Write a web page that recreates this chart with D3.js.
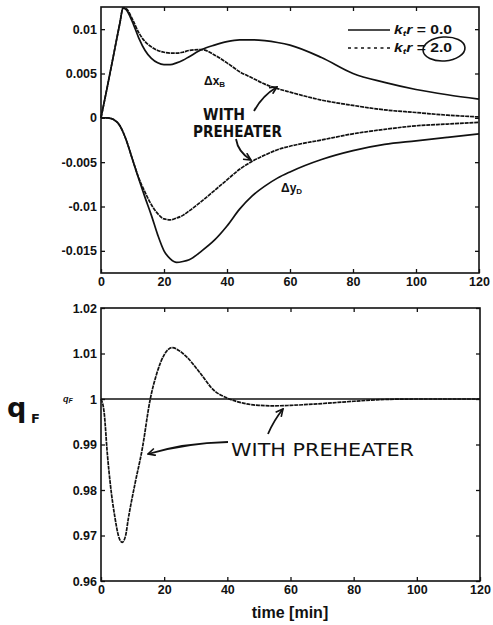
<!DOCTYPE html>
<html>
<head>
<meta charset="utf-8">
<script src="https://cdn.jsdelivr.net/npm/d3@7"></script>
<style>
body { margin: 0; background: #fff; }
</style>
</head>
<body>
<div id="chart"></div>
<script>
// time grid for the upper plot (min)
var tTop = [0, 2, 4, 6, 7, 8, 10, 12, 14, 16, 18, 20, 22, 24, 26, 28, 32, 36, 40, 44, 48, 52, 56, 60, 70, 80, 90, 100, 110, 120];

// delta x_B, k_tr = 0.0 (solid) and 2.0 (with preheater, dashed)
var dxbNoPre = [0, 0.0035, 0.0071, 0.0107, 0.0124, 0.0122, 0.0108, 0.0090, 0.0076, 0.0067, 0.0062, 0.0060, 0.0060, 0.0062, 0.0065, 0.0069, 0.0077, 0.0082, 0.0086, 0.0088, 0.0088, 0.0087, 0.0085, 0.0082, 0.0068, 0.0050, 0.0040, 0.0032, 0.0026, 0.0021];
var dxbPre   = [0, 0.0035, 0.0071, 0.0107, 0.0124, 0.0123, 0.0111, 0.0096, 0.0086, 0.0080, 0.0076, 0.0074, 0.0073, 0.0073, 0.0074, 0.0076, 0.0077, 0.0071, 0.0062, 0.0052, 0.0045, 0.0038, 0.0033, 0.0029, 0.0020, 0.0014, 0.0009, 0.0006, 0.0003, 0.0001];

// delta y_D
var dydNoPre = [0, 0, -0.0002, -0.0009, -0.0016, -0.0025, -0.0047, -0.0069, -0.0090, -0.0110, -0.0132, -0.0150, -0.0159, -0.0163, -0.0162, -0.0160, -0.0150, -0.0138, -0.0122, -0.0103, -0.0088, -0.0077, -0.0068, -0.0061, -0.0047, -0.0037, -0.0030, -0.0026, -0.0022, -0.0018];
var dydPre   = [0, 0, -0.0002, -0.0009, -0.0016, -0.0025, -0.0047, -0.0068, -0.0084, -0.0098, -0.0108, -0.0114, -0.0115, -0.0113, -0.0110, -0.0105, -0.0094, -0.0082, -0.0070, -0.0058, -0.0049, -0.0042, -0.0036, -0.0032, -0.0025, -0.0018, -0.0013, -0.0009, -0.0007, -0.0005];

// feed flow q_F, lower plot
var tBot = [0, 1, 2, 3, 4.4, 5.5, 6.7, 7.8, 8.6, 10.8, 13, 15.6, 17.7, 20, 22.5, 25, 27.2, 31.4, 35.6, 40, 45, 50, 55, 60, 70, 80, 90, 100, 120];
var qfPre = [1.0, 0.997, 0.988, 0.981, 0.974, 0.970, 0.9685, 0.970, 0.9735, 0.9815, 0.9888, 1.0, 1.0057, 1.0097, 1.0113, 1.0105, 1.0092, 1.0057, 1.002, 1.0002, 0.9991, 0.9986, 0.9985, 0.9986, 0.999, 0.9995, 0.9999, 1.0, 1.0];
var tBotFlat = [0, 120];
var qfNoPre = [1, 1];

// ticks
var xTicks = [0, 20, 40, 60, 80, 100, 120];
var yTopTicks = [-0.015, -0.01, -0.005, 0, 0.005, 0.01];
var yBotTicks = [0.96, 0.97, 0.98, 0.99, 1, 1.01, 1.02];

var W = 493, H = 625;
var svg = d3.select('#chart').append('svg')
    .attr('width', W)
    .attr('height', H)
    .style('font-family', '"Liberation Sans", Arial, sans-serif');

svg.append('marker')
    .attr('id', 'head')
    .attr('viewBox', '0 0 10 10')
    .attr('refX', 9)
    .attr('refY', 5)
    .attr('markerWidth', 9)
    .attr('markerHeight', 9)
    .attr('markerUnits', 'userSpaceOnUse')
    .attr('orient', 'auto')
    .append('path')
    .attr('d', 'M 1 1 L 9 5 L 1 9')
    .attr('fill', 'none')
    .attr('stroke', '#111')
    .attr('stroke-width', 1.8);

var x1 = d3.scaleLinear().domain([0, 120]).range([101, 479]);
var y1 = d3.scaleLinear().domain([-0.0175, 0.0125]).range([273, 7]);
var x2 = d3.scaleLinear().domain([0, 120]).range([101, 480]);
var y2 = d3.scaleLinear().domain([0.96, 1.02]).range([581, 308]);

var fmt = function(d){ return String(+d.toFixed(3)); };

function frame(x, y, yTicks) {
    var g = svg.append('g');
    g.append('g')
        .attr('transform', 'translate(0,' + y.range()[0] + ')')
        .call(d3.axisBottom(x).tickValues(xTicks).tickSizeInner(-4).tickSizeOuter(0).tickPadding(4).tickFormat(d3.format('d')));
    g.append('g')
        .attr('transform', 'translate(0,' + y.range()[1] + ')')
        .call(d3.axisTop(x).tickValues(xTicks.slice(1, -1)).tickSizeInner(-4).tickSizeOuter(0).tickFormat(''));
    g.append('g')
        .attr('transform', 'translate(' + x.range()[0] + ',0)')
        .call(d3.axisLeft(y).tickValues(yTicks).tickSizeInner(-4).tickSizeOuter(0).tickPadding(4).tickFormat(fmt));
    g.append('g')
        .attr('transform', 'translate(' + x.range()[1] + ',0)')
        .call(d3.axisRight(y).tickValues(yTicks).tickSizeInner(-4).tickSizeOuter(0).tickFormat(''));
    g.selectAll('.domain').remove();
    g.selectAll('.tick line').attr('stroke', '#111').attr('stroke-width', 1.3);
    g.selectAll('.tick text')
        .attr('fill', '#111')
        .attr('font-size', '12.5px')
        .attr('font-weight', 'bold')
        .attr('font-family', '"Liberation Sans", Arial, sans-serif');
    g.append('rect')
        .attr('x', x.range()[0])
        .attr('y', y.range()[1])
        .attr('width', x.range()[1] - x.range()[0])
        .attr('height', y.range()[0] - y.range()[1])
        .attr('fill', 'none')
        .attr('stroke', '#111')
        .attr('stroke-width', 1.6);
}

function curve(x, y, ts, vs, dashed) {
    var line = d3.line()
        .x(function(d){ return x(d[0]); })
        .y(function(d){ return y(d[1]); })
        .curve(d3.curveMonotoneX);
    svg.append('path')
        .datum(d3.zip(ts, vs))
        .attr('d', line)
        .attr('fill', 'none')
        .attr('stroke', '#111')
        .attr('stroke-width', 1.7)
        .attr('stroke-dasharray', dashed ? '4,0.8' : null);
}

frame(x1, y1, yTopTicks);
frame(x2, y2, yBotTicks);

curve(x1, y1, tTop, dxbNoPre, false);
curve(x1, y1, tTop, dxbPre, true);
curve(x1, y1, tTop, dydNoPre, false);
curve(x1, y1, tTop, dydPre, true);
curve(x2, y2, tBotFlat, qfNoPre, false);
curve(x2, y2, tBot, qfPre, true);

// legend
var leg = svg.append('g').attr('font-weight', 'bold').attr('font-size', '12px').attr('fill', '#111');
[['0.0', null, 30], ['2.0', '3,3.5', 48]].forEach(function(r){
    leg.append('line')
        .attr('x1', 348).attr('x2', 390)
        .attr('y1', r[2]).attr('y2', r[2])
        .attr('stroke', '#111')
        .attr('stroke-width', 1.6)
        .attr('stroke-dasharray', r[1]);
    var t = leg.append('text').attr('x', 394).attr('y', r[2] + 4)
        .attr('textLength', 58).attr('lengthAdjust', 'spacingAndGlyphs');
    t.append('tspan').attr('font-style', 'italic').text('k');
    t.append('tspan').attr('font-size', '8px').attr('dy', 2).attr('font-style', 'italic').text('t');
    t.append('tspan').attr('dy', -2).attr('font-style', 'italic').text('r');
    t.append('tspan').text(' = ' + r[0]);
});
svg.append('ellipse')
    .attr('cx', 444).attr('cy', 49)
    .attr('rx', 21).attr('ry', 12)
    .attr('transform', 'rotate(-4,444,49)')
    .attr('fill', 'none')
    .attr('stroke', '#111')
    .attr('stroke-width', 1.6);

// curve labels
svg.append('text').attr('x', 204).attr('y', 85).attr('font-size', '12px').attr('font-weight', 'bold').attr('fill', '#111')
    .text('Δx').append('tspan').attr('font-size', '8px').attr('dy', 2).text('B');
svg.append('text').attr('x', 281).attr('y', 192).attr('font-size', '12px').attr('font-weight', 'bold').attr('fill', '#111')
    .text('Δy').append('tspan').attr('font-size', '8px').attr('dy', 2).text('D');

// hand written notes
var hand = svg.append('g')
    .attr('font-family', '"DejaVu Sans", sans-serif')
    .attr('font-weight', 'bold')
    .attr('fill', '#111');
hand.append('text').attr('x', 203).attr('y', 120).attr('font-size', '15px')
    .attr('textLength', 42).attr('lengthAdjust', 'spacingAndGlyphs').text('WITH');
hand.append('text').attr('x', 193).attr('y', 137).attr('font-size', '15px')
    .attr('textLength', 89).attr('lengthAdjust', 'spacingAndGlyphs').text('PREHEATER');
hand.append('text').attr('x', 231).attr('y', 456).attr('font-size', '17px').attr('font-weight', 'normal')
    .attr('textLength', 183).attr('lengthAdjust', 'spacingAndGlyphs').text('WITH  PREHEATER');
hand.append('text').attr('x', 7).attr('y', 417).attr('font-size', '27px').text('q');
hand.append('text').attr('x', 31).attr('y', 423).attr('font-size', '13px').text('F');

svg.append('text').attr('x', 63).attr('y', 402).attr('font-size', '9px').attr('font-weight', 'bold')
    .attr('font-style', 'italic').attr('fill', '#111')
    .text('q').append('tspan').attr('font-size', '7px').attr('dy', 1).text('F');

var arrows = [
    'M 254 111 Q 262 96 277 87',
    'M 236 139 Q 238 152 251 160',
    'M 228 442 Q 185 443 148 454',
    'M 268 434 Q 274 420 283 409'
];
svg.selectAll('path.arrow')
    .data(arrows)
    .enter()
    .append('path')
    .attr('class', 'arrow')
    .attr('d', function(d){ return d; })
    .attr('fill', 'none')
    .attr('stroke', '#111')
    .attr('stroke-width', 1.8)
    .attr('marker-end', 'url(#head)');

// x axis title
svg.append('text')
    .attr('x', 290)
    .attr('y', 618)
    .attr('text-anchor', 'middle')
    .attr('font-size', '16px')
    .attr('font-weight', 'bold')
    .attr('fill', '#111')
    .text('time [min]');
</script>
</body>
</html>
